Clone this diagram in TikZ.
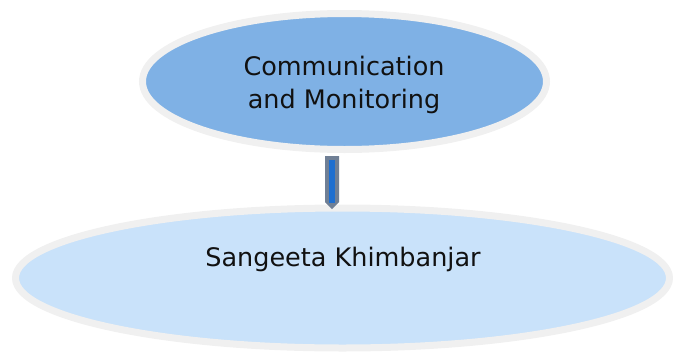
\documentclass[tikz,border=0pt]{standalone}
\usepackage{fontspec}
\setmainfont{DejaVu Sans}
\usetikzlibrary{shapes.geometric,calc}
\definecolor{topfill}{HTML}{7FB1E5}
\definecolor{botfill}{HTML}{C9E2FA}
\definecolor{rimgrey}{HTML}{F0F0F0}
\definecolor{arrgrey}{HTML}{6F7F95}
\definecolor{arrblue}{HTML}{1E6FD0}
\definecolor{txt}{HTML}{111111}
\tikzset{
  bubble/.style={ellipse, draw=rimgrey, line width=7pt, inner sep=0pt},
  lbl/.style={text=txt, font=\fontsize{25.5pt}{33pt}\selectfont, inner sep=0pt, anchor=base}
}
\begin{document}
\begin{tikzpicture}[x=1pt,y=1pt]
\useasboundingbox (0,0) rectangle (673,-354);
\node[bubble, fill=topfill, minimum width=404pt, minimum height=136pt] (top) at (344.5,-81.5) {};
\node[bubble, fill=botfill, minimum width=654pt, minimum height=140pt] (bot) at (342.5,-278) {};
\node[lbl] (t1) at (344,-75) {Communication};
\node[lbl] (t2) at (344,-108) {and Monitoring};
\node[lbl] (b1) at (343,-266) {Sangeeta Khimbanjar};
% connector arrow
\coordinate (as) at (332,-156);
\coordinate (ae) at (332,-209);
\fill[arrgrey] ($(as)+(-7,0)$) -- ($(as)+(7,0)$) -- ($(ae)+(7,7)$) -- (ae) -- ($(ae)+(-7,7)$) -- cycle;
\fill[arrblue] ($(as)+(-2.7,-4)$) rectangle ($(ae)+(2.7,6)$);
\end{tikzpicture}
\end{document}
